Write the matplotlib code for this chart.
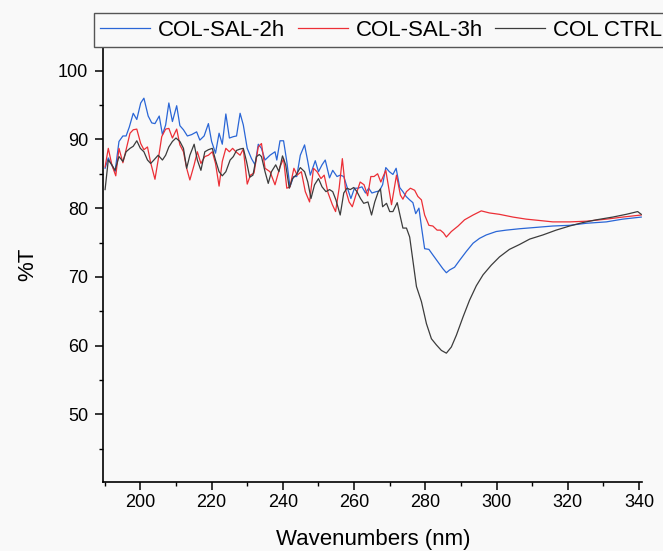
import matplotlib
matplotlib.use("Agg")
import matplotlib.pyplot as plt
from matplotlib.ticker import MultipleLocator

plt.rcParams['font.family'] = ['Liberation Sans', 'DejaVu Sans']

# values
blue_x = [190.1, 191.0, 192.9, 194.0, 195.1, 196.0, 196.9, 198.0, 199.0, 200.1,
          201.0, 202.2, 203.2, 204.1, 205.3, 206.2, 207.1, 208.0, 209.0, 210.2,
          211.1, 212.1, 213.2, 214.4, 215.8, 216.7, 217.9, 219.1, 220.0, 221.1,
          222.1, 223.0, 224.0, 225.0, 226.1, 227.0, 228.0, 228.9, 230.0, 231.2,
          232.2, 233.1, 234.0, 235.0, 236.4, 237.8, 238.3, 239.2, 240.2, 241.1,
          242.0, 243.0, 243.9, 244.9, 246.1, 247.0, 247.7, 249.1, 250.0, 251.0,
          251.9, 253.1, 254.0, 255.2, 256.1, 257.1, 258.0, 259.1, 260.1, 261.1,
          262.2, 263.2, 264.1, 265.0, 266.2, 267.1, 268.0, 268.9, 269.9, 270.9,
          271.8, 272.8, 273.7, 274.6, 275.6, 276.5, 277.3, 278.2, 278.9, 279.8,
          281.0, 282.1, 283.5, 284.9, 285.9, 286.8, 288.2, 289.6, 291.5, 293.4,
          295.2, 297.1, 299.9, 302.7, 306.4, 311.1, 315.8, 320.5, 325.2, 330.8,
          335.4, 340.6]
blue_y = [85.8, 87.3, 85.3, 89.7, 90.5, 90.5, 91.8, 93.8, 92.9, 95.3,
          96.0, 93.4, 92.4, 92.3, 93.4, 90.7, 92.1, 95.3, 92.6, 94.9,
          92.0, 91.4, 90.5, 90.7, 91.1, 89.9, 90.5, 92.3, 89.7, 88.0,
          90.9, 89.3, 93.7, 90.2, 90.4, 90.5, 93.8, 92.1, 88.7, 87.2,
          86.3, 89.3, 88.7, 87.0, 87.7, 88.2, 87.0, 89.8, 89.8, 86.8,
          83.1, 84.6, 84.6, 87.7, 89.2, 86.8, 84.8, 86.9, 85.3, 86.3,
          87.0, 84.4, 85.5, 84.6, 84.8, 84.6, 83.1, 81.4, 82.9, 82.9,
          83.1, 82.2, 82.9, 82.2, 82.4, 82.5, 83.4, 85.9, 85.3, 84.9,
          85.8, 83.0, 82.4, 81.7, 81.2, 80.8, 79.2, 80.0, 77.3, 74.1,
          74.0, 73.2, 72.2, 71.2, 70.6, 71.0, 71.4, 72.4, 73.7, 74.9,
          75.6, 76.1, 76.6, 76.8, 77.0, 77.2, 77.4, 77.5, 77.8, 78.0,
          78.4, 78.7]

red_x = [190.1, 191.0, 192.0, 193.1, 194.0, 195.1, 196.0, 197.1, 198.0, 199.0,
         200.1, 201.0, 202.0, 202.9, 204.1, 205.0, 206.0, 207.1, 208.0, 209.0,
         210.2, 211.1, 212.1, 213.0, 213.9, 215.1, 216.0, 217.0, 218.1, 219.1,
         220.2, 221.1, 222.1, 223.0, 224.0, 225.0, 225.9, 226.8, 228.0, 228.9,
         230.0, 230.9, 231.9, 233.1, 234.0, 235.0, 236.4, 237.8, 239.2, 240.2,
         241.1, 242.0, 243.1, 244.0, 245.2, 246.3, 247.5, 248.6, 249.6, 250.7,
         251.6, 252.7, 253.9, 254.8, 255.8, 256.7, 257.6, 258.6, 259.5, 260.5,
         261.7, 262.8, 263.8, 264.7, 265.6, 266.6, 267.5, 268.9, 270.5, 271.9,
         273.0, 273.7, 274.7, 275.8, 277.0, 277.9, 278.9, 279.8, 281.0, 282.1,
         283.3, 284.2, 285.1, 285.9, 287.3, 289.2, 291.0, 293.4, 295.7, 298.0,
         300.8, 304.6, 308.3, 312.1, 315.8, 320.5, 325.2, 330.8, 335.4, 340.6]
red_y = [86.0, 88.7, 86.3, 84.7, 88.7, 86.6, 88.5, 90.9, 91.4, 91.5,
         89.4, 88.5, 88.9, 86.6, 84.2, 87.0, 90.4, 91.5, 91.6, 90.2,
         91.5, 89.2, 88.2, 85.8, 84.1, 86.3, 88.2, 86.5, 87.5, 87.7,
         88.2, 86.5, 83.2, 86.8, 88.7, 88.2, 88.7, 88.2, 87.7, 88.6,
         83.5, 84.8, 85.1, 88.9, 89.4, 85.8, 85.3, 83.4, 86.0, 87.2,
         82.9, 83.1, 85.8, 84.8, 85.3, 82.4, 80.9, 85.8, 85.3, 84.3,
         84.8, 82.2, 80.5, 79.5, 82.9, 87.2, 82.7, 80.9, 80.2, 81.9,
         83.8, 83.4, 81.8, 84.6, 84.6, 85.0, 83.8, 85.5, 80.5, 84.8,
         81.9, 81.3, 82.4, 82.9, 82.6, 81.7, 81.2, 79.0, 77.5, 77.4,
         76.8, 76.8, 76.4, 75.8, 76.6, 77.4, 78.3, 79.0, 79.6, 79.3,
         79.1, 78.7, 78.4, 78.2, 78.0, 78.0, 78.1, 78.4, 78.7, 79.0]

black_x = [190.1, 191.0, 192.0, 192.9, 194.0, 195.1, 196.0, 197.1, 198.0, 199.0,
           200.0, 201.0, 202.0, 202.9, 203.8, 205.0, 206.2, 207.1, 208.0, 209.0,
           210.0, 211.1, 212.1, 213.0, 213.9, 215.1, 216.0, 217.0, 218.1, 219.1,
           220.2, 221.1, 222.1, 223.0, 224.0, 225.2, 226.1, 227.0, 228.0, 228.9,
           229.8, 230.7, 231.6, 232.6, 233.4, 234.0, 235.0, 235.9, 236.8, 238.0,
           238.9, 239.9, 240.8, 241.8, 242.7, 243.7, 244.9, 246.1, 247.0, 247.9,
           248.9, 250.0, 251.0, 252.1, 253.1, 254.0, 254.9, 256.1, 257.1, 258.0,
           258.9, 259.9, 260.8, 261.8, 262.7, 263.9, 264.9, 265.8, 266.8, 267.4,
           268.0, 269.1, 270.0, 270.9, 272.1, 273.0, 273.7, 274.7, 275.6, 276.5,
           277.5, 278.9, 280.3, 281.7, 283.1, 284.5, 285.9, 287.3, 288.7, 290.6,
           292.4, 294.3, 296.2, 298.5, 300.8, 303.6, 306.4, 309.3, 313.0, 316.7,
           320.5, 324.2, 328.0, 332.6, 336.4, 339.6, 340.6]
black_y = [82.7, 87.0, 86.3, 85.5, 87.5, 86.8, 88.2, 88.7, 89.0, 89.8,
           88.7, 88.2, 87.0, 86.5, 87.0, 87.7, 87.0, 87.7, 88.9, 89.7,
           90.2, 89.7, 88.7, 85.8, 87.7, 89.3, 87.0, 85.5, 88.2, 88.5,
           88.7, 87.0, 85.3, 84.7, 85.3, 87.0, 87.5, 88.4, 88.6, 88.7,
           86.8, 84.5, 84.8, 87.5, 87.8, 87.5, 85.3, 83.6, 85.3, 86.3,
           85.3, 87.6, 86.3, 82.9, 84.3, 84.8, 85.9, 85.3, 83.8, 81.4,
           83.4, 84.3, 83.1, 82.4, 82.7, 82.4, 81.2, 79.0, 82.2, 82.9,
           82.7, 83.0, 82.4, 81.4, 80.7, 80.9, 79.0, 80.9, 82.4, 82.8,
           80.2, 80.7, 79.5, 79.5, 80.8, 78.7, 77.1, 77.1, 75.8, 72.4,
           68.6, 66.4, 63.2, 61.0, 60.1, 59.3, 58.9, 59.8, 61.5, 64.2,
           66.6, 68.7, 70.3, 71.7, 72.9, 74.0, 74.7, 75.5, 76.1, 76.8,
           77.4, 77.9, 78.3, 78.7, 79.1, 79.5, 79.1]

labels = ['COL-SAL-2h', 'COL-SAL-3h', 'COL CTRL']
colors = ['#2a66d6', '#ec2f36', '#3c3c3c']

W, H = 663, 551
bg = '#f9f9f9'
fig = plt.figure(figsize=(W / 100, H / 100), dpi=100, facecolor=bg)
ax = fig.add_axes([103.3 / W, 1 - 481.7 / H, (642.3 - 103.3) / W, (481.7 - 47.3) / H])
ax.set_facecolor(bg)

series = [(blue_x, blue_y), (red_x, red_y), (black_x, black_y)]
handles = []
for (xs, ys), lab, c in zip(series, labels, colors):
    ln, = ax.plot(xs, ys, color=c, lw=0.9, label=lab)
    handles.append(ln)

ax.set_xlim(189.6, 340.9)
ax.set_ylim(40.2, 103.4)
ax.xaxis.set_major_locator(MultipleLocator(20))
ax.xaxis.set_minor_locator(MultipleLocator(10))
ax.yaxis.set_major_locator(MultipleLocator(10))
ax.yaxis.set_minor_locator(MultipleLocator(5))

# only left / bottom spines, ticks out
ax.spines['top'].set_visible(False)
ax.spines['right'].set_visible(False)
for s in ['left', 'bottom']:
    ax.spines[s].set_linewidth(1.2)
ax.tick_params(which='major', direction='out', length=5.5, width=1.1,
               labelsize=13, pad=3)
ax.tick_params(axis='y', which='major', length=6, pad=5)
ax.tick_params(which='minor', direction='out', length=3, width=1.0)

ax.set_xlabel('Wavenumbers (nm)', fontsize=16, labelpad=13)
ax.set_ylabel('%T', fontsize=16, labelpad=14)

fig.legend(handles=handles, loc='upper left',
           bbox_to_anchor=(93.7 / W, 1 - 13 / H), ncol=3,
           fontsize=16, frameon=True, fancybox=False,
           edgecolor='#555555', facecolor=bg, framealpha=1,
           handlelength=2.25, handletextpad=0.35, columnspacing=0.55,
           borderpad=0.3, borderaxespad=0)

plt.savefig('out.png', dpi=100, facecolor=bg)
